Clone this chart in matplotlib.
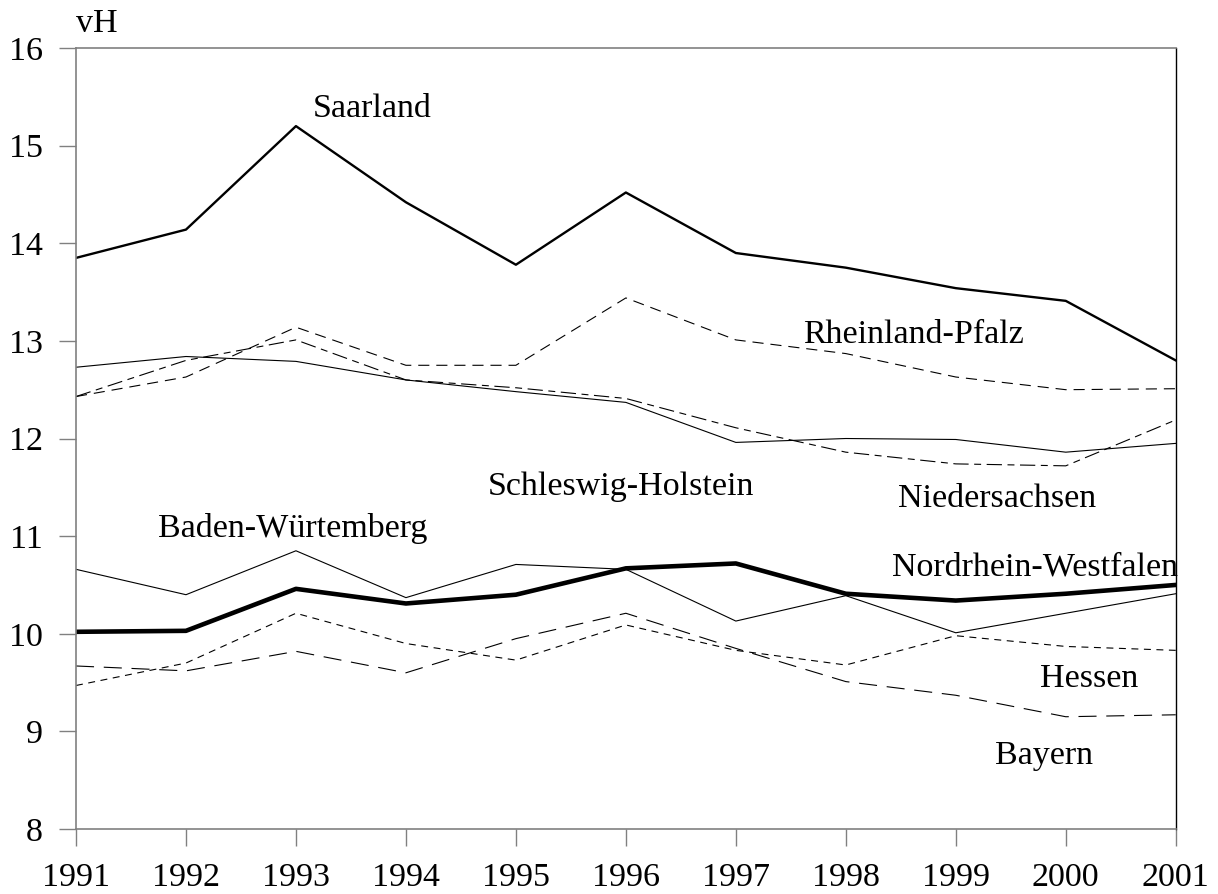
import matplotlib.pyplot as plt

plt.rcParams["font.family"] = ["Liberation Serif", "DejaVu Serif"]
plt.rcParams["lines.scale_dashes"] = False

# data (vH)
years = [1991, 1992, 1993, 1994, 1995, 1996, 1997, 1998, 1999, 2000, 2001]
saarland = [13.85, 14.14, 15.20, 14.42, 13.78, 14.52, 13.90, 13.75, 13.54, 13.41, 12.80]
rheinland_pfalz = [12.43, 12.63, 13.14, 12.75, 12.75, 13.44, 13.01, 12.87, 12.63, 12.50, 12.51]
niedersachsen = [12.43, 12.80, 13.01, 12.60, 12.52, 12.41, 12.11, 11.86, 11.74, 11.72, 12.19]
schleswig_holstein = [12.73, 12.84, 12.79, 12.60, 12.48, 12.37, 11.96, 12.00, 11.99, 11.86, 11.95]
baden_wuerttemberg = [10.66, 10.40, 10.85, 10.37, 10.71, 10.66, 10.13, 10.39, 10.01, 10.21, 10.41]
nordrhein_westfalen = [10.02, 10.03, 10.46, 10.31, 10.40, 10.67, 10.72, 10.41, 10.34, 10.41, 10.50]
hessen = [9.47, 9.70, 10.21, 9.90, 9.73, 10.09, 9.83, 9.68, 9.98, 9.87, 9.83]
bayern = [9.67, 9.62, 9.82, 9.60, 9.95, 10.21, 9.85, 9.51, 9.37, 9.15, 9.17]

# labels: text, x, y (baseline)
labels = [
    ("Saarland", 1993.15, 15.29),
    ("Rheinland-Pfalz", 1997.61, 12.98),
    ("Schleswig-Holstein", 1994.74, 11.42),
    ("Niedersachsen", 1998.47, 11.30),
    ("Baden-Würtemberg", 1991.75, 10.99),
    ("Nordrhein-Westfalen", 1998.42, 10.60),
    ("Hessen", 1999.77, 9.45),
    ("Bayern", 1999.36, 8.67),
]

fig = plt.figure(figsize=(12.18, 8.94), dpi=100)
ax = fig.add_axes([0.0624, 0.0727, 0.9029, 0.8736])

# the lines
ax.plot(years, saarland, color="black", lw=1.7)
ax.plot(years, rheinland_pfalz, color="black", lw=0.8, linestyle=(0, (8, 5)))
ax.plot(years, niedersachsen, color="black", lw=0.8, linestyle=(0, (11, 4, 5, 4)))
ax.plot(years, schleswig_holstein, color="black", lw=0.8)
ax.plot(years, baden_wuerttemberg, color="black", lw=0.8)
ax.plot(years, nordrhein_westfalen, color="black", lw=3.3, solid_joinstyle="round")
ax.plot(years, hessen, color="black", lw=0.8, linestyle=(0, (5, 4)))
ax.plot(years, bayern, color="black", lw=0.8, linestyle=(0, (13, 7)))

for text, x, y in labels:
    ax.text(x, y, text, fontsize=24.5, ha="left", va="baseline", clip_on=False)
ax.text(1991, 16.16, "vH", fontsize=24.5, ha="left", va="baseline", clip_on=False)

# axes
ax.set_xlim(1991, 2001)
ax.set_ylim(8, 16)
ax.set_xticks(years)
ax.set_yticks(range(8, 17))
ax.tick_params(axis="both", direction="out", length=12, width=1, color="gray",
               labelsize=24.5)
ax.tick_params(axis="x", pad=12)
ax.tick_params(axis="y", pad=12)
for side in ["left", "top", "bottom"]:
    ax.spines[side].set_color("gray")
    ax.spines[side].set_linewidth(1.2)
ax.spines["right"].set_color("black")
ax.spines["right"].set_linewidth(1.0)

plt.savefig("out.png", dpi=100)
